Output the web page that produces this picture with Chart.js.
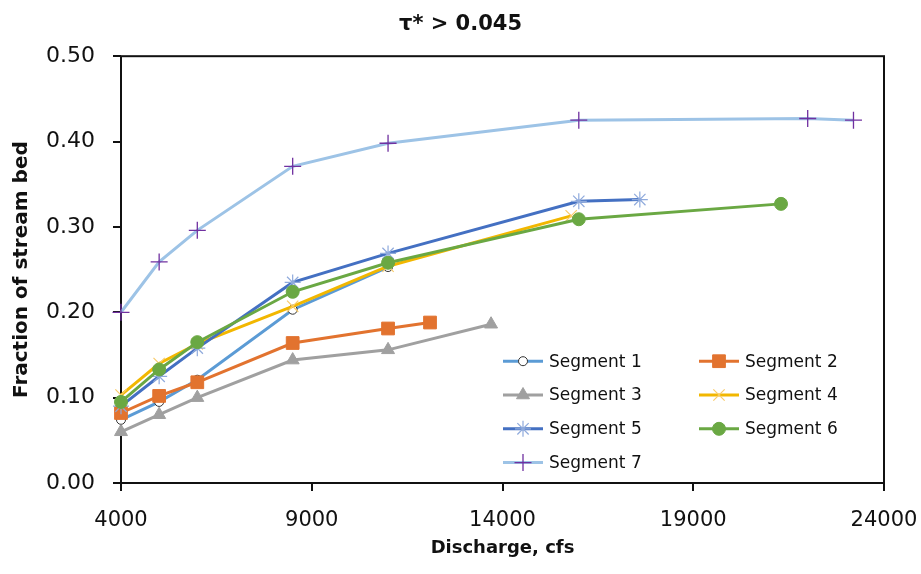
<!DOCTYPE html>
<html>
<head>
<meta charset="utf-8">
<script src="https://cdn.jsdelivr.net/npm/chart.js@4/dist/chart.umd.min.js"></script>
<style>
  html, body { margin: 0; padding: 0; background: #fff; }
  #wrap { width: 921px; height: 574px; position: relative; }
</style>
</head>
<body>
<div id="wrap"><canvas id="chart"></canvas></div>
<script>
// discharge (cfs) and fraction of stream bed for each segment
const seg1X = [4000, 5000, 6000, 8500, 11000];
const seg1Y = [0.074, 0.095, 0.121, 0.203, 0.253];
const seg2X = [4000, 5000, 6000, 8500, 11000, 12100];
const seg2Y = [0.082, 0.102, 0.118, 0.164, 0.181, 0.188];
const seg3X = [4000, 5000, 6000, 8500, 11000, 13700];
const seg3Y = [0.060, 0.080, 0.100, 0.144, 0.156, 0.186];
const seg4X = [4000, 5000, 6000, 8500, 11000, 15800];
const seg4Y = [0.103, 0.140, 0.163, 0.207, 0.254, 0.313];
const seg5X = [4000, 5000, 6000, 8500, 11000, 16000, 17600];
const seg5Y = [0.090, 0.125, 0.158, 0.235, 0.269, 0.330, 0.332];
const seg6X = [4000, 5000, 6000, 8500, 11000, 16000, 21300];
const seg6Y = [0.095, 0.133, 0.165, 0.224, 0.258, 0.309, 0.327];
const seg7X = [4000, 5000, 6000, 8500, 11000, 16000, 22000, 23200];
const seg7Y = [0.200, 0.259, 0.296, 0.371, 0.398, 0.425, 0.427, 0.425];

const seriesNames = ['Segment 1', 'Segment 2', 'Segment 3', 'Segment 4', 'Segment 5', 'Segment 6', 'Segment 7'];
const xTicks = [4000, 9000, 14000, 19000, 24000];
const yTicks = [0, 0.1, 0.2, 0.3, 0.4, 0.5];

const toPoints = (xs, ys) => xs.map((x, i) => ({ x: x, y: ys[i] }));

const styles = [
  { line: '#5B9BD5', fill: '#FFFFFF', edge: '#333333', point: 'circle', radius: 4.5, edgeWidth: 1 },
  { line: '#E2732F', fill: '#E2732F', edge: '#E2732F', point: 'rect', radius: 9, edgeWidth: 1 },
  { line: '#A0A0A0', fill: '#A0A0A0', edge: '#A0A0A0', point: 'triangle', radius: 7.5, edgeWidth: 1 },
  { line: '#F2B700', fill: '#F8CB6B', edge: '#F8CB6B', point: 'crossRot', radius: 8, edgeWidth: 1.2 },
  { line: '#4470C2', fill: '#8FAADC', edge: '#8FAADC', point: 'star', radius: 8, edgeWidth: 1.2 },
  { line: '#6AA843', fill: '#6AA843', edge: '#6AA843', point: 'circle', radius: 6.5, edgeWidth: 1 },
  { line: '#9DC3E6', fill: '#7030A0', edge: '#7030A0', point: 'cross', radius: 8.5, edgeWidth: 1.3 }
];

const seriesData = [
  toPoints(seg1X, seg1Y), toPoints(seg2X, seg2Y), toPoints(seg3X, seg3Y),
  toPoints(seg4X, seg4Y), toPoints(seg5X, seg5Y), toPoints(seg6X, seg6Y),
  toPoints(seg7X, seg7Y)
];

const datasets = seriesData.map((pts, i) => ({
  label: seriesNames[i],
  data: pts,
  order: seriesNames.length - i,
  borderColor: styles[i].line,
  borderWidth: 3,
  backgroundColor: styles[i].line,
  pointStyle: styles[i].point,
  pointRadius: styles[i].radius,
  pointBackgroundColor: styles[i].fill,
  pointBorderColor: styles[i].edge,
  pointBorderWidth: styles[i].edgeWidth,
  tension: 0,
  clip: false
}));

// frame around plot area
const frame = {
  id: 'frame',
  beforeDatasetsDraw(chart) {
    const a = chart.chartArea;
    const ctx = chart.ctx;
    ctx.save();
    ctx.strokeStyle = '#111';
    ctx.lineWidth = 2;
    ctx.strokeRect(a.left, a.top, a.right - a.left, a.bottom - a.top);
    ctx.restore();
  }
};

// two column legend inside the plot
const insideLegend = {
  id: 'insideLegend',
  afterDraw(chart) {
    const a = chart.chartArea;
    const ctx = chart.ctx;
    ctx.save();
    chart.data.datasets.forEach((ds, i) => {
      const col = i % 2;
      const row = Math.floor(i / 2);
      const x0 = a.left + 382 + col * 196;
      const y = a.top + 305 + row * 33.8;
      ctx.strokeStyle = ds.borderColor;
      ctx.lineWidth = 3;
      ctx.beginPath();
      ctx.moveTo(x0, y);
      ctx.lineTo(x0 + 40, y);
      ctx.stroke();
      ctx.fillStyle = ds.pointBackgroundColor;
      ctx.strokeStyle = ds.pointBorderColor;
      ctx.lineWidth = ds.pointBorderWidth;
      Chart.helpers.drawPoint(ctx, {
        pointStyle: ds.pointStyle,
        radius: ds.pointRadius,
        borderWidth: ds.pointBorderWidth,
        rotation: 0
      }, x0 + 20, y);
      ctx.fillStyle = '#111';
      ctx.font = '17px "DejaVu Sans"';
      ctx.textBaseline = 'middle';
      ctx.textAlign = 'left';
      ctx.fillText(ds.label, x0 + 46, y + 1);
    });
    ctx.restore();
  }
};

new Chart(document.getElementById('chart'), {
  type: 'line',
  data: { datasets: datasets },
  options: {
    responsive: true,
    maintainAspectRatio: false,
    animation: false,
    devicePixelRatio: 1,
    layout: { padding: 0 },
    plugins: {
      legend: { display: false },
      tooltip: { enabled: false },
      title: {
        display: true,
        text: 'τ* > 0.045',
        color: '#111',
        font: { family: 'DejaVu Sans', size: 21, weight: 'bold' },
        padding: { top: 12, bottom: 19 }
      }
    },
    scales: {
      x: {
        type: 'linear',
        min: 4000,
        max: 24000,
        afterFit(scale) {
          scale.height = 91;
          scale.paddingRight = 37;
          scale.paddingLeft = 0;
        },
        afterBuildTicks(scale) { scale.ticks = xTicks.map(v => ({ value: v })); },
        ticks: {
          color: '#111',
          padding: 17,
          font: { family: 'DejaVu Sans', size: 21 },
          callback: v => String(v)
        },
        grid: { drawOnChartArea: false, drawTicks: true, tickLength: 8, color: '#111', lineWidth: 2 },
        border: { display: false },
        title: {
          display: true,
          text: 'Discharge, cfs',
          color: '#111',
          font: { family: 'DejaVu Sans', size: 18, weight: 'bold' },
          padding: { top: 0, bottom: 15 }
        }
      },
      y: {
        min: 0,
        max: 0.5,
        afterFit(scale) { scale.width = 121; },
        afterBuildTicks(scale) { scale.ticks = yTicks.map(v => ({ value: v })); },
        ticks: {
          color: '#111',
          padding: 18,
          font: { family: 'DejaVu Sans', size: 22 },
          callback: v => v.toFixed(2)
        },
        grid: { drawOnChartArea: false, drawTicks: true, tickLength: 8, color: '#111', lineWidth: 2 },
        border: { display: false },
        title: {
          display: true,
          text: 'Fraction of stream bed',
          color: '#111',
          font: { family: 'DejaVu Sans', size: 20, weight: 'bold' },
          padding: { top: 10, bottom: 0 }
        }
      }
    }
  },
  plugins: [frame, insideLegend]
});
</script>
</body>
</html>
